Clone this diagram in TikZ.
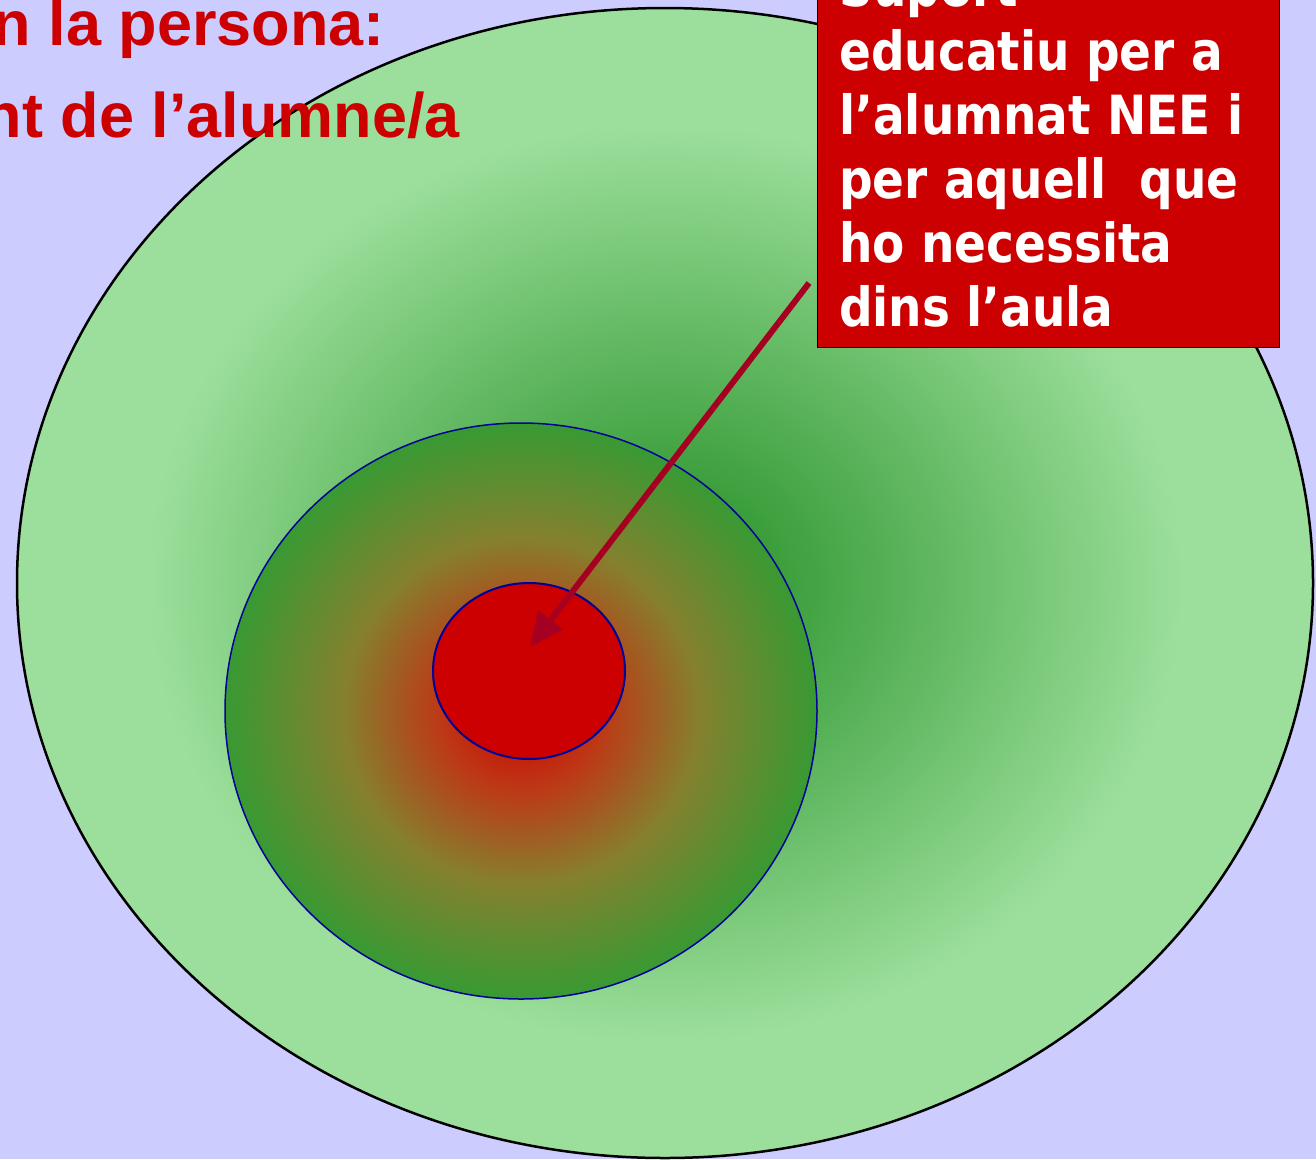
\documentclass[tikz,border=0pt]{standalone}
\usepackage{fontspec}
\setmainfont{Liberation Sans}
\newfontfamily\boxfont[FakeStretch=0.87]{DejaVu Sans}
\usetikzlibrary{arrows.meta,shapes.geometric}
\definecolor{bg}{HTML}{CCCCFF}
\definecolor{dkgreen}{HTML}{339933}
\definecolor{ltgreen}{HTML}{9CDF9C}
\definecolor{myred}{HTML}{CC0000}
\definecolor{orng}{HTML}{BC3A16}
\definecolor{olivec}{HTML}{85802E}
\definecolor{edgegreen}{HTML}{389A33}
\definecolor{edgeblue}{HTML}{000099}
\definecolor{arrowred}{HTML}{A50021}
\pgfdeclareradialshading{outerg}{\pgfpoint{0bp}{0bp}}{color(0bp)=(dkgreen); color(3bp)=(dkgreen); color(20bp)=(ltgreen); color(50bp)=(ltgreen)}
\pgfdeclareradialshading{innerg}{\pgfpoint{0bp}{0bp}}{color(0bp)=(myred); color(7bp)=(orng); color(15bp)=(olivec); color(25bp)=(edgegreen); color(50bp)=(edgegreen)}
\tikzset{
  ring/.style={ellipse, inner sep=0pt, outer sep=0pt},
  title/.style={text=myred, font=\bfseries\fontsize{63}{70}\selectfont, inner sep=0pt},
  boxtext/.style={text=white, font=\boxfont\bfseries\fontsize{54}{64}\selectfont, align=left, inner sep=0pt},
  arrowstyle/.style={draw=arrowred, line width=6pt, -{Triangle[length=34pt,width=30pt]}},
}
\begin{document}
\begin{tikzpicture}[x=1pt,y=-1pt]
\clip (0,0) rectangle (1316,1159);
\fill[bg] (0,0) rectangle (1316,1159);
\node[ring, shade, shading=outerg, draw=black, line width=2.5pt, minimum width=1296pt, minimum height=1150pt] (outer) at (665,583) {};
\node[ring, shade, shading=innerg, draw=edgeblue, line width=1.5pt, minimum width=592pt, minimum height=576pt] (inner) at (521,711) {};
\node[ring, fill=myred, draw=edgeblue, line width=2pt, minimum width=192pt, minimum height=176pt] (core) at (529,671) {};
\node[title, anchor=base east] (t1) at (385,45) {n la persona:};
\node[title, anchor=base east] (t2) at (460,137) {nt de l’alumne/a};
\node[draw=black, line width=1pt, fill=myred, minimum width=462pt, minimum height=440pt, anchor=south west, inner sep=0pt] (box) at (817,348) {};
\node[boxtext, anchor=south west] (btxt) at (839,327) {Suport\\educatiu per a\\l’alumnat NEE i\\per aquell\ \ que\\ho necessita\\dins l’aula};
\coordinate (astart) at (809,283);
\coordinate (atip) at (530,647);
\draw[arrowstyle] (astart) -- (atip);
\end{tikzpicture}
\end{document}
